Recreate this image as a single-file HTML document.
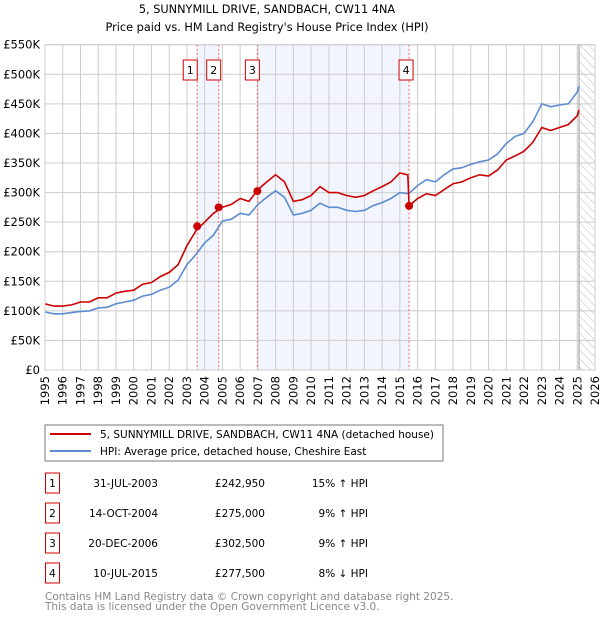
<!DOCTYPE html>
<html><head><meta charset="utf-8"><style>
body{margin:0;background:#fff;font-family:"DejaVu Sans","Liberation Sans",sans-serif;}
svg text{font-family:"DejaVu Sans","Liberation Sans",sans-serif;}
</style></head><body>
<svg id="chart" width="600" height="620" xmlns="http://www.w3.org/2000/svg">
<text x="267" y="13" font-size="11.3" text-anchor="middle">5, SUNNYMILL DRIVE, SANDBACH, CW11 4NA</text>
<text x="267" y="31" font-size="11.3" text-anchor="middle">Price paid vs. HM Land Registry's House Price Index (HPI)</text>
<defs><pattern id="hatch" width="6" height="6" patternUnits="userSpaceOnUse" patternTransform="rotate(-45)"><line x1="0" y1="0" x2="0" y2="6" stroke="#bbb" stroke-width="1"/></pattern></defs>
<g id="plot"></g>
<rect x="45" y="425" width="398" height="36" fill="#fff" stroke="#777"/>
<line x1="50" y1="434" x2="91" y2="434" stroke="#cc0000" stroke-width="2"/>
<text x="100" y="438" font-size="10.5">5, SUNNYMILL DRIVE, SANDBACH, CW11 4NA (detached house)</text>
<line x1="50" y1="451" x2="91" y2="451" stroke="#5b8bd0" stroke-width="2"/>
<text x="100" y="455" font-size="10.5">HPI: Average price, detached house, Cheshire East</text>
<g id="table" font-size="10.5"></g>
<text x="45" y="600" font-size="10.5" fill="#888">Contains HM Land Registry data © Crown copyright and database right 2025.</text>
<text x="45" y="610" font-size="10.5" fill="#888">This data is licensed under the Open Government Licence v3.0.</text>
</svg>
<script>
const hpiYears=[1995,1995.5,1996,1996.5,1997,1997.5,1998,1998.5,1999,1999.5,2000,2000.5,2001,2001.5,2002,2002.5,2003,2003.5,2004,2004.5,2005,2005.5,2006,2006.5,2007,2007.5,2008,2008.5,2009,2009.5,2010,2010.5,2011,2011.5,2012,2012.5,2013,2013.5,2014,2014.5,2015,2015.5,2016,2016.5,2017,2017.5,2018,2018.5,2019,2019.5,2020,2020.5,2021,2021.5,2022,2022.5,2023,2023.5,2024,2024.5,2025,2025.1];
const hpiValues=[98,95,95,97,99,100,105,106,112,115,118,125,128,135,140,152,178,195,215,228,252,255,265,262,280,292,303,292,262,265,270,282,275,275,270,268,270,278,283,290,300,298,312,322,318,330,340,342,348,352,355,365,383,395,400,420,450,445,448,450,470,480];
const propYears=[1995,1995.5,1996,1996.5,1997,1997.5,1998,1998.5,1999,1999.5,2000,2000.5,2001,2001.5,2002,2002.5,2003,2003.5,2004,2004.5,2005,2005.5,2006,2006.5,2007,2007.5,2008,2008.5,2009,2009.5,2010,2010.5,2011,2011.5,2012,2012.5,2013,2013.5,2014,2014.5,2015,2015.45,2015.52,2016,2016.5,2017,2017.5,2018,2018.5,2019,2019.5,2020,2020.5,2021,2021.5,2022,2022.5,2023,2023.5,2024,2024.5,2025,2025.1];
const propValues=[112,108,108,110,115,115,122,122,130,133,135,145,148,158,165,178,210,235,250,265,275,280,290,285,305,318,330,318,285,288,295,310,300,300,295,292,295,303,310,318,333,330,277.5,290,298,295,305,315,318,325,330,328,338,355,362,370,385,410,405,410,415,430,440];
const saleLabels=["1","2","3","4"];
const saleYears=[2003.58,2004.79,2006.97,2015.52];
const salePrices=[242.95,275,302.5,277.5];
const saleDates=["31-JUL-2003","14-OCT-2004","20-DEC-2006","10-JUL-2015"];
const salePriceText=["£242,950","£275,000","£302,500","£277,500"];
const saleHpiText=["15% ↑ HPI","9% ↑ HPI","9% ↑ HPI","8% ↓ HPI"];
const yTicks=[0,50,100,150,200,250,300,350,400,450,500,550];
const yTickLabels=["£0","£50K","£100K","£150K","£200K","£250K","£300K","£350K","£400K","£450K","£500K","£550K"];
const xTicks=[1995,1996,1997,1998,1999,2000,2001,2002,2003,2004,2005,2006,2007,2008,2009,2010,2011,2012,2013,2014,2015,2016,2017,2018,2019,2020,2021,2022,2023,2024,2025,2026];

const X0=45,X1=595,Y0=370,Y1=44.7,dataEnd=2025.1;
const xs=y=>X0+(y-1995)/(2026-1995)*(X1-X0);
const ys=v=>Y0-v/550*(Y0-Y1);
const NS="http://www.w3.org/2000/svg";
const plot=document.getElementById('plot');
function mk(tag,attrs,parent){const e=document.createElementNS(NS,tag);for(const k in attrs)e.setAttribute(k,attrs[k]);(parent||plot).appendChild(e);return e;}

for(const [a,b] of [[0,1],[2,3]]){
  const r=mk('rect',{x:xs(saleYears[a]),y:Y1,width:xs(saleYears[b])-xs(saleYears[a]),height:Y0-Y1,fill:'#f2f5fd'});
  
  
}
const h=mk('rect',{x:xs(dataEnd),y:Y1,width:X1-xs(dataEnd),height:Y0-Y1,fill:'url(#hatch)'});


xTicks.forEach(t=>{
  const l=mk('line',{x1:xs(t),x2:xs(t),y1:Y1,y2:Y0,stroke:'#ccc','stroke-width':1});
  
  
  const tx=mk('text',{x:0,y:0,'font-size':11.5,'text-anchor':'end',transform:`translate(${xs(t)+4},${Y0+6}) rotate(-90)`});
  tx.textContent=t;
  
  
});
yTicks.forEach((t,i)=>{
  const l=mk('line',{x1:X0,x2:X1,y1:ys(t),y2:ys(t),stroke:'#ccc','stroke-width':1});
  
  
  const tx=mk('text',{x:40,y:ys(t)+4,'font-size':11.5,'text-anchor':'end'});
  tx.textContent=yTickLabels[i];
  
  
});
const el=mk('line',{x1:xs(dataEnd),x2:xs(dataEnd),y1:Y1,y2:Y0,stroke:'#999','stroke-width':1});


saleYears.forEach(y=>{
  const l=mk('line',{x1:xs(y),x2:xs(y),y1:Y1,y2:Y0,stroke:'#f06060','stroke-width':1,'stroke-dasharray':'2,2'});
  
  
});
function path(xa,va){return xa.map((x,i)=>(i?'L':'M')+xs(x).toFixed(1)+','+ys(va[i]).toFixed(1)).join('');}
const hp=mk('path',{d:path(hpiYears,hpiValues),fill:'none',stroke:'#5b8bd0','stroke-width':1.6});


const pp=mk('path',{d:path(propYears,propValues),fill:'none',stroke:'#cc0000','stroke-width':1.6});


saleYears.forEach((y,i)=>{
  const c=mk('circle',{cx:xs(y),cy:ys(salePrices[i]),r:4,fill:'#cc0000'});
  
  
  const g=mk('g',{});
  
  
  const lx=i==0?xs(y)-7:(i==3?xs(y)-3:xs(y)-5);
  mk('rect',{x:lx-7,y:60,width:14,height:20,fill:'#fff',stroke:'#cc0000'},g);
  const t=mk('text',{x:lx,y:74,'font-size':11,'text-anchor':'middle'},g);
  t.textContent=saleLabels[i];
});
const fr=mk('rect',{x:X0,y:Y1,width:X1-X0,height:Y0-Y1,fill:'none',stroke:'#ccc'});


const tb=document.getElementById('table');
saleLabels.forEach((s,i)=>{
  const cy=483+i*30;
  const g=mk('g',{},tb);
  
  
  mk('rect',{x:45.5,y:cy-10,width:14,height:20,fill:'#fff',stroke:'#cc0000'},g);
  const a=mk('text',{x:52.5,y:cy+4,'text-anchor':'middle'},g);a.textContent=s;
  const d=mk('text',{x:158,y:cy+4,'text-anchor':'end'},g);d.textContent=saleDates[i];
  const p=mk('text',{x:265,y:cy+4,'text-anchor':'end'},g);p.textContent=salePriceText[i];
  const q=mk('text',{x:368,y:cy+4,'text-anchor':'end'},g);q.textContent=saleHpiText[i];
});
</script>
</body></html>
